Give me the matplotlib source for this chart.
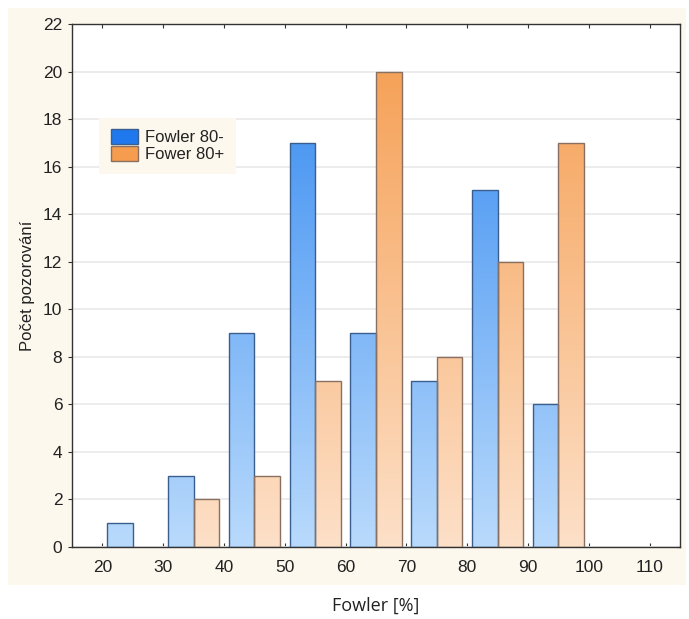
import matplotlib
matplotlib.use("Agg")
import matplotlib.pyplot as plt
import numpy as np
from matplotlib.colors import LinearSegmentedColormap
from matplotlib.patches import Rectangle, Patch

plt.rcParams["font.family"] = ["Liberation Sans", "DejaVu Sans"]

bins = [20, 30, 40, 50, 60, 70, 80, 90]
fowler_minus = [1, 3, 9, 17, 9, 7, 15, 6]
fowler_plus = [0, 2, 3, 7, 20, 8, 12, 17]
labels = ["Fowler 80-", "Fower 80+"]
xticks = [20, 30, 40, 50, 60, 70, 80, 90, 100, 110]
yticks = list(range(0, 23, 2))

fig = plt.figure(figsize=(6.89, 6.19), dpi=100)
fig.patch.set_facecolor("white")
W, H = 689, 619
# cream backdrop
fig.patches.append(Rectangle((8 / W, 1 - 585 / H), (686 - 8) / W, (585 - 8) / H,
                             transform=fig.transFigure, facecolor="#fdf8ee",
                             edgecolor="none", zorder=-10))

ax = fig.add_axes([72 / W, 1 - 547 / H, (680 - 72) / W, (547 - 24) / H])
ax.set_facecolor("white")
ymax = 22
ax.set_xlim(15, 115)
ax.set_ylim(0, ymax)

blue_cmap = LinearSegmentedColormap.from_list("b", ["#b9dafc", "#2f86f0"])
orange_cmap = LinearSegmentedColormap.from_list("o", ["#fde0c8", "#f59c4e"])

bw = 4.2

def grad_bar(x0, h, cmap, edge):
    if h <= 0:
        return
    grad = np.linspace(0, h / ymax, 256).reshape(-1, 1)
    im = ax.imshow(grad, cmap=cmap, vmin=0, vmax=1, origin="lower",
                   extent=(x0, x0 + bw, 0, h), aspect="auto", zorder=2,
                   interpolation="bilinear")
    rect = Rectangle((x0, 0), bw, h, facecolor="none", edgecolor=edge,
                     linewidth=1.0, zorder=3)
    ax.add_patch(rect)
    im.set_clip_path(rect)

for b, v1, v2 in zip(bins, fowler_minus, fowler_plus):
    grad_bar(b + 0.8, v1, blue_cmap, "#3a5f8f")
    grad_bar(b + 0.8 + bw, v2, orange_cmap, "#8a7060")

ax.set_xlim(15, 115)
ax.set_ylim(0, ymax)
ax.set_xticks(xticks)
ax.set_yticks(yticks)
ax.grid(axis="y", color="#ebebeb", linewidth=1.3, zorder=0)
ax.set_axisbelow(True)
for s in ax.spines.values():
    s.set_color("#333333")
    s.set_linewidth(1.0)

ax.tick_params(axis="y", direction="out", length=3, left=True, right=True,
               labelsize=12.5, colors="#333333", labelcolor="#222222", pad=4)
ax.tick_params(axis="x", direction="in", length=3, top=True, bottom=True,
               labelsize=12.5, colors="#333333", labelcolor="#222222", pad=9)
# right ticks inward
for line in ax.yaxis.get_ticklines()[1::2]:
    line.set_marker(0)

ax.set_xlabel("Fowler [%]", fontsize=13, family="Open Sans", color="#222222",
              labelpad=16)
ax.set_ylabel("Počet pozorování", fontsize=12, color="#222222", labelpad=6)

handles = [Patch(facecolor="#1f78ee", edgecolor="#3a5f8f", label=labels[0]),
           Patch(facecolor="#f59c4e", edgecolor="#8a7060", label=labels[1])]
leg = ax.legend(handles=handles, loc="upper left", bbox_to_anchor=(0.031, 0.837),
                frameon=True, fancybox=False, handlelength=1.6, handleheight=1.0,
                handletextpad=0.45, labelspacing=0.05, borderpad=0.7,
                prop={"size": 12})
leg.get_frame().set_facecolor("#fdf8ee")
leg.get_frame().set_edgecolor("none")
leg.get_frame().set_alpha(1)
for t in leg.get_texts():
    t.set_color("#222222")

fig.savefig("out.png", dpi=100)
